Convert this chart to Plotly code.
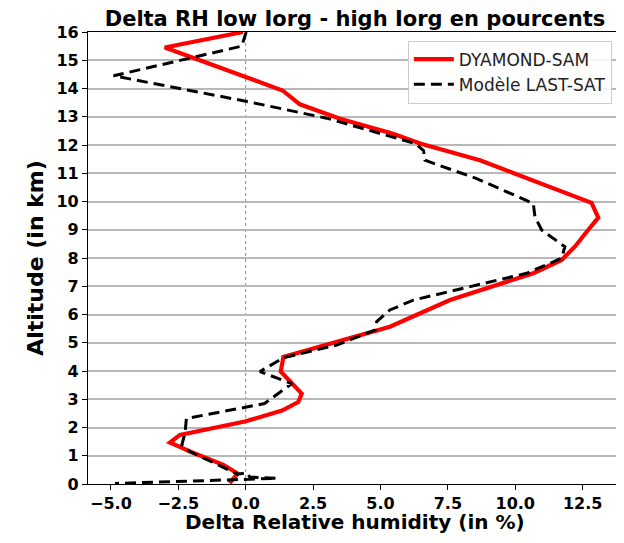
import plotly.graph_objects as go

# DYAMOND-SAM profile (delta RH %, altitude km)
sam_rh = [-0.1, -3.0, 1.37, 2.01, 3.5, 5.47, 6.47, 8.69, 12.83, 13.08, 12.65, 12.21,
          11.72, 10.67, 7.58, 5.35, 1.4, 1.3, 2.08, 1.95, 1.35, -0.03, -2.44, -2.81,
          -2.3, -2.07, -0.83, -0.3, -0.6]
sam_alt = [16.0, 15.45, 13.93, 13.44, 12.93, 12.4, 12.05, 11.46, 9.95, 9.43, 8.93, 8.4,
           7.93, 7.46, 6.51, 5.57, 4.5, 3.98, 3.2, 2.9, 2.6, 2.21, 1.74, 1.47,
           1.25, 1.15, 0.68, 0.37, 0.03]

# Modele LAST-SAT profile
last_rh = [0.02, -0.15, -4.9, 0.0, 3.0, 6.3, 6.6, 6.65, 8.57, 10.67, 10.73, 10.98,
           11.84, 11.72, 10.42, 6.22, 5.35, 4.86, 4.8, 3.38, 1.4, 0.53, 1.71, 0.7,
           -0.1, -2.2, -2.25, -2.37, -2.07, -0.83, -0.3, 0.05, 0.15, 1.15, -4.85]
last_alt = [16.0, 15.5, 14.45, 13.55, 12.95, 12.05, 11.8, 11.46, 10.81, 9.93, 9.46, 8.99,
            8.4, 7.99, 7.46, 6.51, 6.16, 5.75, 5.45, 4.92, 4.47, 3.98, 3.55, 2.85,
            2.7, 2.32, 1.8, 1.39, 1.15, 0.57, 0.35, 0.4, 0.25, 0.2, 0.02]

FONT = "DejaVu Sans"

fig = go.Figure()
fig.add_trace(go.Scatter(x=sam_rh, y=sam_alt, mode="lines", name="DYAMOND-SAM",
                         line=dict(color="#ff0000", width=4.2)))
fig.add_trace(go.Scatter(x=last_rh, y=last_alt, mode="lines", name="Modèle LAST-SAT",
                         line=dict(color="black", width=3, dash="11px,6px")))

# dotted zero reference
fig.add_vline(x=0, line=dict(color="#888888", width=1, dash="dot"), layer="below")

# x title as an annotation so it sits clear of the tick labels
fig.add_annotation(text="<b>Delta Relative humidity (in %)</b>", xref="paper", yref="paper",
                   x=0.5, y=-0.085, xanchor="center", yanchor="middle", showarrow=False,
                   font=dict(family=FONT, size=20, color="black"))

# the page body has an 8px margin, so the figure is sized to fit inside it
fig.update_layout(
    width=616, height=527,
    paper_bgcolor="white", plot_bgcolor="white",
    margin=dict(l=80, r=2, t=23.5, b=50.7),
    title=dict(text="<b>Delta RH low Iorg - high Iorg en pourcents</b>",
               x=0.5, xref="paper", xanchor="center", y=0.979, yanchor="middle",
               font=dict(family=FONT, size=21, color="black")),
    font=dict(family=FONT, color="black"),
    legend=dict(x=0.981, y=0.981, xanchor="right", yanchor="top",
                bgcolor="rgba(255,255,255,0.85)", bordercolor="#cccccc", borderwidth=1,
                font=dict(family=FONT, size=17, color="#222222"),
                itemwidth=40, tracegroupgap=2),
    showlegend=True,
)
fig.update_xaxes(range=[-5.85, 13.96], tick0=0, dtick=2.5, tickformat=".1f",
                 showgrid=False, zeroline=False, automargin=False,
                 showline=True, linecolor="black", linewidth=1.2, mirror=True,
                 ticks="outside", ticklen=5, tickcolor="black",
                 tickprefix="<b>", ticksuffix="</b>",
                 tickfont=dict(family=FONT, size=16, color="black"))
fig.update_yaxes(range=[0, 16], dtick=1,
                 showgrid=True, gridcolor="#b8b8b8", gridwidth=1.5, zeroline=False,
                 automargin=False,
                 showline=True, linecolor="black", linewidth=1.2, mirror=True,
                 ticks="outside", ticklen=5, tickcolor="black",
                 tickprefix="<b>", ticksuffix="</b>",
                 tickfont=dict(family=FONT, size=16, color="black"),
                 title=dict(text="<b>Altitude (in km)</b>", standoff=6,
                            font=dict(family=FONT, size=22, color="black")))

fig.write_html("out.html")
